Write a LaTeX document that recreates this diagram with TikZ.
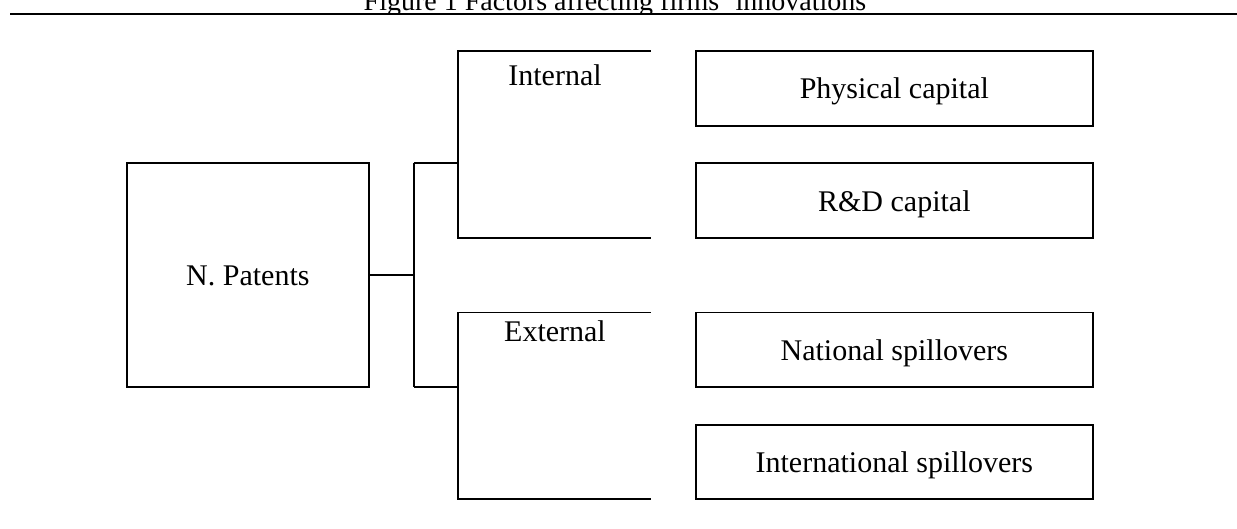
\documentclass[tikz,border=0pt]{standalone}
\usepackage{fontspec}
\setmainfont{Liberation Serif}
\begin{document}
\begin{tikzpicture}[x=1pt,y=-1pt,
  line width=1.6pt,
  box/.style={draw, rectangle, inner sep=0pt, text height=21pt, text depth=0pt,
    font=\fontsize{30}{36}\selectfont},
  lbl/.style={anchor=base, inner sep=0pt, font=\fontsize{30}{36}\selectfont},
  ttl/.style={anchor=base, inner sep=0pt, font=\fontsize{28}{34}\selectfont}]
\useasboundingbox (0,0) rectangle (1237,529);
% title (clipped as in the reference)
\begin{scope}
  \clip (0,0) rectangle (1237,12.6);
  \node[ttl] (title) at (615,11) {Figure 1 Factors affecting firms' innovations};
\end{scope}
\draw[line width=2.2pt] (10,13.7) -- (1237,13.7);
% main box
\node[box, minimum width=242.3pt, minimum height=223.4pt] (np) at (247.85,275) {N. Patents};
% right boxes
\node[box, minimum width=397.3pt, minimum height=75pt] (phys) at (894.35,88.5) {Physical capital};
\node[box, minimum width=397.3pt, minimum height=74.7pt] (rd) at (894.35,200.65) {R\&D capital};
\node[box, minimum width=397.3pt, minimum height=74pt] (nat) at (894.35,349.7) {National spillovers};
\node[box, minimum width=397.3pt, minimum height=74pt] (intl) at (894.35,461.7) {International spillovers};
% fork
\coordinate (fork) at (413.7,275);
\coordinate (forkT) at (413.7,163.3);
\coordinate (forkB) at (413.7,386.7);
\coordinate (iJ) at (458,163.3);
\coordinate (eJ) at (458,386.7);
\draw (np.east) -- (fork);
\draw (forkT) -- (forkB);
\draw (forkT) -- (iJ);
\draw (forkB) -- (eJ);
% internal bracket
\coordinate (iTR) at (650.7,51);
\coordinate (iTL) at (458,51);
\coordinate (iBL) at (458,238);
\coordinate (iBR) at (650.7,238);
\draw (iTR) -- (iTL) -- (iBL) -- (iBR);
\node[lbl] (internal) at (555,85.5) {Internal};
% external bracket
\coordinate (eTR) at (650.7,312.7);
\coordinate (eTL) at (458,312.7);
\coordinate (eBL) at (458,498.7);
\coordinate (eBR) at (650.7,498.7);
\draw (eTR) -- (eTL) -- (eBL) -- (eBR);
\node[lbl] (external) at (555,341.5) {External};
\end{tikzpicture}
\end{document}
